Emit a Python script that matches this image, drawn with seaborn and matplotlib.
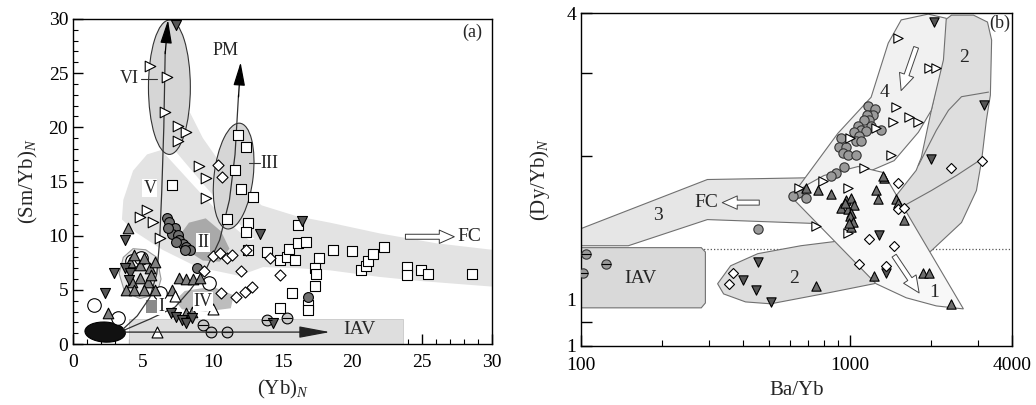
import numpy as np
import pandas as pd
import seaborn as sns
import matplotlib
matplotlib.use('Agg')
import matplotlib.pyplot as plt
from matplotlib.patches import Polygon, Ellipse, Rectangle

# ---------------- panel (a) data: (Yb)N vs (Sm/Yb)N ----------------
sq_x = [7.1, 11.8, 12.4, 11.6, 12.0, 12.9, 11.0, 12.5, 12.4, 12.5, 16.1, 13.9, 14.8, 15.3, 15.5,
        15.9, 16.1, 16.7, 17.6, 17.3, 17.4, 17.3, 15.7, 16.8, 16.8, 14.8, 18.6, 20.0, 20.6, 21.0,
        21.1, 21.5, 22.3, 23.9, 23.9, 24.9, 25.4, 28.6]
sq_y = [14.7, 19.3, 18.2, 16.1, 14.3, 13.6, 11.5, 11.2, 10.3, 8.7, 11.0, 8.5, 7.8, 8.0, 8.8,
        7.8, 9.3, 9.4, 7.9, 7.0, 6.5, 5.4, 4.7, 3.6, 3.1, 3.3, 8.7, 8.6, 6.8, 7.2,
        7.7, 8.3, 9.0, 7.1, 6.4, 6.8, 6.5, 6.5]
rt_x = [5.5, 6.7, 6.6, 7.5, 8.1, 7.5, 9.0, 9.5, 9.5, 5.3, 4.8, 5.7, 6.2]
rt_y = [25.7, 24.6, 21.4, 20.1, 19.6, 18.7, 16.4, 15.3, 13.5, 12.4, 11.7, 11.3, 9.8]
gc_x = [6.7, 6.9, 7.3, 7.1, 7.5, 7.6, 7.9, 8.1, 8.4, 7.4, 8.0, 6.8, 8.9, 16.8]
gc_y = [11.6, 11.3, 10.7, 10.2, 10.1, 9.6, 9.2, 9.0, 8.7, 9.4, 8.7, 10.7, 7.0, 4.3]
oc_x = [1.5, 3.2, 4.2, 4.9, 9.7, 6.2]
oc_y = [3.6, 2.4, 7.7, 7.9, 5.6, 4.7]
hc_x = [9.3, 9.9, 11.0, 13.9, 15.3]
hc_y = [1.8, 1.1, 1.1, 2.2, 2.4]
ut_x = [3.9, 2.5, 4.1, 4.4, 4.8, 5.1, 5.5, 5.9, 4.2, 4.8, 5.4, 5.6, 5.1, 5.9, 3.8, 4.4,
        7.6, 8.1, 8.6, 9.1, 7.1, 8.1, 8.5]
ut_y = [10.7, 2.9, 7.6, 8.2, 7.3, 7.9, 7.0, 7.6, 5.7, 6.1, 5.7, 6.4, 5.0, 5.0, 5.0, 5.0,
        6.1, 6.0, 6.0, 6.1, 5.0, 2.9, 3.0]
dt_x = [3.7, 2.9, 2.3, 3.7, 4.1, 4.0, 7.0, 7.4, 7.8, 8.1, 8.5, 16.4, 13.4, 14.3, 7.4]
dt_y = [9.6, 6.6, 4.7, 7.0, 6.6, 5.9, 2.9, 2.5, 2.2, 1.9, 2.4, 11.4, 10.2, 1.9, 29.4]
dm_x = [10.4, 10.7, 10.0, 10.5, 11.0, 11.4, 9.4, 12.0, 12.4, 10.6, 11.7, 12.3, 12.8, 14.1, 14.8]
dm_y = [16.5, 15.4, 8.1, 8.4, 7.9, 8.2, 6.7, 6.7, 8.7, 4.7, 4.3, 4.8, 5.3, 7.9, 6.4]
ot_x = [6.0, 7.3, 10.0]
ot_y = [1.1, 4.4, 3.2]

# fields in (a)
band_x = [3.5, 3.6, 4.3, 5.3, 6.3, 6.9, 7.0, 7.6, 8.4, 9.3, 10.5, 12.0, 13.5, 16.0, 18.4, 22.0, 26.0, 30.0,
          30.0, 25.0, 21.9, 18.4, 16.0, 13.6, 11.9, 8.9, 6.4, 4.5]
band_y = [11.5, 13.3, 16.0, 17.5, 17.9, 19.0, 21.5, 22.0, 21.3, 19.0, 16.8, 14.5, 12.8, 11.8, 11.2, 10.2, 9.3, 8.7,
          5.3, 5.8, 6.2, 6.8, 7.0, 7.1, 6.3, 7.1, 8.7, 10.3]
stripe_x = [6.6, 7.2, 9.3, 11.2, 13.0, 12.6, 10.8, 8.8]
stripe_y = [17.5, 18.0, 14.8, 12.0, 9.7, 9.6, 11.6, 14.4]
II_x = [7.5, 8.3, 9.5, 10.6, 11.2, 10.5, 9.3, 8.2]
II_y = [9.8, 11.2, 11.6, 10.4, 8.8, 7.6, 7.7, 8.6]
IV_x = [7.3, 8.0, 10.0, 11.5, 11.3, 9.5, 7.8]
IV_y = [4.0, 4.9, 5.3, 4.5, 3.3, 3.0, 3.2]
I_x = [3.3, 3.6, 4.3, 5.2, 6.0, 6.3, 6.0, 4.8, 3.7]
I_y = [6.5, 8.0, 8.8, 8.7, 8.0, 6.0, 4.6, 4.2, 4.8]
vi_x = [3.6, 4.6, 5.5, 6.0, 6.2, 6.35, 6.5, 6.6]
vi_y = [1.4, 2.6, 4.3, 6.5, 9.5, 14.0, 20.0, 27.0]
pm_x = [3.7, 5.5, 7.3, 8.4, 9.6, 10.5, 11.2, 11.6, 11.85]
pm_y = [1.3, 2.3, 3.4, 5.0, 7.1, 9.6, 13.3, 17.5, 23.0]

# ---------------- panel (b) data: Ba/Yb vs (Dy/Yb)N ----------------
bgc_x = [1167, 1239, 1218, 1157, 1177, 1128, 1198, 1071, 1099, 1035, 1148, 1306, 1081, 1052, 1099,
         926, 910, 966, 941, 984, 1052, 951, 888, 850, 640, 612, 685, 454]
bgc_y = [2.55, 2.52, 2.44, 2.44, 2.38, 2.38, 2.32, 2.32, 2.27, 2.25, 2.26, 2.27, 2.21, 2.16, 2.16,
         2.19, 2.09, 2.09, 2.03, 2.01, 2.01, 1.90, 1.85, 1.82, 1.68, 1.65, 1.64, 1.41]
bhc_x = [104, 102, 124]
bhc_y = [1.25, 1.14, 1.19]
but_x = [685, 760, 850, 966, 1009, 926, 984, 1035, 1009, 1009, 1250, 1267, 1340, 1230, 747,
         1871, 1972, 2383, 1589, 1327, 1486, 1510, 960, 1000, 1030, 990]
but_y = [1.72, 1.70, 1.67, 1.62, 1.64, 1.56, 1.55, 1.58, 1.52, 1.42, 1.70, 1.63, 1.80, 1.12, 1.07,
         1.14, 1.14, 0.98, 1.47, 1.82, 1.63, 1.60, 1.60, 1.50, 1.46, 1.45]
brt_x = [1510, 1972, 2094, 1486, 1445, 1660, 1795, 1423, 1250, 1128, 996, 793, 646, 984, 747, 984]
brt_y = [3.54, 3.06, 3.07, 2.54, 2.36, 2.42, 2.36, 2.01, 2.29, 1.89, 2.19, 1.78, 1.72, 1.72, 1.43, 1.38]
bdt_x = [2050, 3162, 2006, 1284, 454, 399, 446, 507, 1362]
bdt_y = [3.83, 2.56, 1.98, 1.37, 1.20, 1.10, 1.05, 0.99, 1.14]
bdm_x = [366, 354, 1177, 1081, 1510, 1510, 1582, 2383, 3085, 1459, 1362]
bdm_y = [1.14, 1.08, 1.34, 1.19, 1.76, 1.55, 1.56, 1.89, 1.96, 1.30, 1.18]

# fields in (b)
r3_x = [100, 295, 780, 780, 295, 150, 100]
r3_y = [1.411, 1.789, 1.806, 1.445, 1.474, 1.299, 1.299]
iav_x = [100, 280, 290, 290, 280, 100]
iav_y = [0.962, 0.962, 0.985, 1.26, 1.287, 1.287]
r2_x = [322, 339, 409, 507, 828, 1229, 1618, 2006, 2597, 2951, 3085, 3213, 3325, 3361, 3244, 2878,
        2383, 2260, 2200, 2006, 1841, 1762, 1486, 1198, 871, 657, 454, 360]
r2_y = [1.081, 1.029, 0.990, 0.981, 1.034, 1.081, 1.162, 1.268, 1.453, 1.696, 1.962, 2.383, 2.69, 3.51,
        3.83, 3.96, 3.96, 3.87, 3.19, 2.50, 1.99, 1.87, 1.656, 1.384, 1.325, 1.299, 1.250, 1.179]
r2a_x = [1795, 2094, 2323, 2597, 3273]
r2a_y = [1.915, 2.27, 2.50, 2.67, 2.73]
r2b_x = [1591, 2006, 2488, 3029]
r2b_y = [1.577, 1.696, 1.824, 1.962]
r4_x = [603, 657, 901, 1198, 1387, 1550, 1953, 2280, 2225, 2006, 1795, 1459, 1198, 926, 747]
r4_y = [1.648, 1.755, 2.236, 2.663, 3.459, 3.87, 3.98, 3.90, 3.19, 2.50, 2.248, 1.96, 1.868, 1.824, 1.738]
r1_x = [603, 685, 800, 1071, 1327, 2640, 2094, 1618, 1250]
r1_y = [1.648, 1.738, 1.824, 1.905, 1.851, 0.957, 0.971, 1.010, 1.081]

# ---------------- style ----------------
sns.set_style('ticks')
plt.rcParams['font.family'] = ['Liberation Serif', 'DejaVu Serif']
plt.rcParams['mathtext.fontset'] = 'custom'
plt.rcParams['mathtext.rm'] = 'Liberation Serif'
plt.rcParams['mathtext.it'] = 'Liberation Serif:italic'
plt.rcParams['axes.linewidth'] = 1.0
plt.rcParams['axes.edgecolor'] = 'black'


def scat(ax, xs, ys, marker, s, fc, ec='black', lw=0.8, z=5):
    df = pd.DataFrame({'x': xs, 'y': ys})
    sns.scatterplot(data=df, x='x', y='y', ax=ax, marker=marker, s=s, color=fc,
                    edgecolor=ec, linewidth=lw, zorder=z, legend=False)


def region(ax, xs, ys, fc, ec='none', lw=0.8, z=1):
    ax.add_patch(Polygon(np.column_stack([xs, ys]), closed=True, fc=fc, ec=ec, lw=lw, zorder=z))


fig = plt.figure(figsize=(10.36, 4.05), dpi=100)
ax1 = fig.add_axes([0.0705, 0.1506, 0.4044, 0.8025])
ax2 = fig.add_axes([0.5608, 0.1457, 0.416, 0.822])

# ================= panel (a) =================
region(ax1, band_x, band_y, '#e3e3e3')
region(ax1, stripe_x, stripe_y, 'white', z=1.1)
ax1.add_patch(Rectangle((4.0, 0), 19.6, 2.35, fc='#dedede', ec='#c8c8c8', lw=0.6, zorder=1))
region(ax1, I_x, I_y, '#e8e8e8', ec='#999999', z=1.5)
region(ax1, II_x, II_y, '#a9a9a9', z=1.5)
region(ax1, IV_x, IV_y, '#bdbdbd', z=1.5)
ax1.add_patch(Ellipse((6.9, 23.7), 3.0, 12.4, fc='#d6d6d6', ec='#333333', lw=0.8, zorder=1.6))
ax1.add_patch(Ellipse((11.5, 15.5), 2.8, 9.8, angle=-5, fc='#d6d6d6', ec='#333333', lw=0.8, zorder=1.6))
ax1.add_patch(Ellipse((2.3, 1.1), 2.9, 1.85, angle=-5, fc='#111111', ec='black', lw=0.8, zorder=3))
ax1.add_patch(Rectangle((5.2, 2.9), 1.0, 1.2, fc='#8a8a8a', ec='none', zorder=2))

ax1.plot(vi_x, vi_y, color='#333333', lw=0.9, zorder=3)
ax1.plot(pm_x, pm_y, color='#333333', lw=0.9, zorder=3)
ax1.annotate('', xy=(6.8, 29.9), xytext=(6.6, 26.8), annotation_clip=False,
             arrowprops=dict(arrowstyle='-|>,head_length=1.2,head_width=0.3', color='black',
                             lw=0.9, mutation_scale=12, shrinkA=0, shrinkB=0), zorder=6)
ax1.annotate('', xy=(12.0, 26.0), xytext=(11.85, 22.8),
             arrowprops=dict(arrowstyle='-|>,head_length=1.2,head_width=0.3', color='black',
                             lw=0.9, mutation_scale=12, shrinkA=0, shrinkB=0), zorder=6)
ax1.annotate('', xy=(18.4, 1.1), xytext=(3.7, 1.1),
             arrowprops=dict(arrowstyle='-|>,head_length=1.6,head_width=0.3', color='#222222',
                             lw=0.9, mutation_scale=12, shrinkA=0, shrinkB=0), zorder=6)
ax1.annotate('', xy=(27.3, 9.9), xytext=(23.8, 9.9),
             arrowprops=dict(arrowstyle='simple,head_length=0.9,head_width=0.8,tail_width=0.3',
                             fc='white', ec='#333333', lw=0.7, mutation_scale=12,
                             shrinkA=0, shrinkB=0), zorder=6)

scat(ax1, sq_x, sq_y, 's', 55, 'white')
scat(ax1, rt_x, rt_y, '>', 58, 'white')
scat(ax1, gc_x, gc_y, 'o', 50, '#707070')
scat(ax1, oc_x, oc_y, 'o', 95, 'white')
scat(ax1, hc_x, hc_y, 'o', 60, '#c8c8c8')
scat(ax1, hc_x, hc_y, '_', 60, 'black', ec='black', lw=0.8, z=5.5)
scat(ax1, ut_x, ut_y, '^', 58, '#808080')
scat(ax1, dt_x, dt_y, 'v', 52, '#555555')
scat(ax1, dm_x, dm_y, 'D', 32, 'white')
scat(ax1, ot_x, ot_y, '^', 62, 'white')

fs = 14
box = dict(fc='white', ec='none', pad=0.6)
ax1.text(4.05, 24.5, 'VI', fontsize=fs - 1, ha='center', va='center', zorder=7)
ax1.plot([4.9, 6.0], [24.5, 24.5], color='#333333', lw=0.8, zorder=6)
ax1.text(14.05, 16.7, 'III', fontsize=fs - 1, ha='center', va='center', zorder=7)
ax1.plot([12.6, 13.4], [16.7, 16.7], color='#333333', lw=0.8, zorder=6)
ax1.text(10.9, 27.1, 'PM', fontsize=fs - 1, ha='center', va='center', zorder=7)
ax1.text(5.5, 14.4, 'V', fontsize=fs - 1, ha='center', va='center', bbox=box, zorder=7)
ax1.text(9.3, 9.4, 'II', fontsize=fs - 1, ha='center', va='center', bbox=box, zorder=7)
ax1.text(9.3, 3.9, 'IV', fontsize=fs - 1, ha='center', va='center', bbox=box, zorder=7)
ax1.text(6.3, 3.5, 'I', fontsize=fs - 1, ha='center', va='center', bbox=box, zorder=7)
ax1.text(20.5, 1.3, 'IAV', fontsize=fs, ha='center', va='center', zorder=7)
ax1.text(27.5, 9.9, 'FC', fontsize=fs, ha='left', va='center', zorder=7)
ax1.text(28.6, 28.8, '(a)', fontsize=fs - 1, ha='center', va='center', zorder=7)

ax1.set_xlim(0, 30)
ax1.set_ylim(0, 30)
ax1.set_xticks([0, 5, 10, 15, 20, 25, 30])
ax1.set_yticks([0, 5, 10, 15, 20, 25, 30])
ax1.xaxis.set_minor_locator(matplotlib.ticker.MultipleLocator(1))
ax1.yaxis.set_minor_locator(matplotlib.ticker.MultipleLocator(1))
ax1.tick_params(which='both', direction='in', top=False, right=False, labelsize=fs, colors='black')
ax1.tick_params(which='major', length=7, width=1.0)
ax1.tick_params(which='minor', length=3.5, width=0.8)
ax1.tick_params(axis='x', which='major', pad=7)
ax1.set_xlabel('(Yb)$_N$', fontsize=fs + 1, labelpad=5)
ax1.set_ylabel('(Sm/Yb)$_N$', fontsize=fs + 1, labelpad=6)

# ================= panel (b) =================
ax2.set_xscale('log')
ax2.set_yscale('log')
ax2.axhline(1.28, ls=':', color='#555555', lw=0.9, zorder=0.5)
region(ax2, r3_x, r3_y, '#e6e6e6', ec='#707070')
region(ax2, iav_x, iav_y, '#d9d9d9', ec='#707070')
region(ax2, r2_x, r2_y, '#dedede', ec='#707070', z=1.2)
ax2.plot(r2a_x, r2a_y, color='#707070', lw=0.8, zorder=1.3)
ax2.plot(r2b_x, r2b_y, color='#707070', lw=0.8, zorder=1.3)
region(ax2, r4_x, r4_y, '#f1f1f1', ec='#707070', z=1.4)
region(ax2, r1_x, r1_y, '#f8f8f8', ec='#707070', z=1.5)

ax2.annotate('', xy=(1549, 2.75), xytext=(1762, 3.39),
             arrowprops=dict(arrowstyle='simple,head_length=1.0,head_width=0.9,tail_width=0.3',
                             fc='white', ec='#444444', lw=0.7, mutation_scale=12,
                             shrinkA=0, shrinkB=0), zorder=6)
ax2.annotate('', xy=(1807, 1.034), xytext=(1459, 1.238),
             arrowprops=dict(arrowstyle='simple,head_length=1.0,head_width=0.9,tail_width=0.3',
                             fc='white', ec='#444444', lw=0.7, mutation_scale=12,
                             shrinkA=0, shrinkB=0), zorder=6)
ax2.annotate('', xy=(335, 1.6), xytext=(460, 1.6),
             arrowprops=dict(arrowstyle='simple,head_length=0.9,head_width=0.8,tail_width=0.3',
                             fc='white', ec='#444444', lw=0.7, mutation_scale=12,
                             shrinkA=0, shrinkB=0), zorder=6)

scat(ax2, bgc_x, bgc_y, 'o', 45, '#9a9a9a', ec='#333333')
scat(ax2, bhc_x, bhc_y, 'o', 45, '#9a9a9a', ec='#333333')
scat(ax2, bhc_x, bhc_y, '_', 45, 'black', ec='black', lw=0.8, z=5.5)
scat(ax2, brt_x, brt_y, '>', 45, 'white')
scat(ax2, but_x, but_y, '^', 45, '#6e6e6e')
scat(ax2, bdt_x, bdt_y, 'v', 45, '#555555')
scat(ax2, bdm_x, bdm_y, 'D', 26, 'white')

ax2.text(194, 1.50, '3', fontsize=fs, ha='center', va='center', zorder=7)
ax2.text(325, 1.6, 'FC', fontsize=fs, ha='right', va='center', zorder=7)
ax2.text(166, 1.11, 'IAV', fontsize=fs, ha='center', va='center', zorder=7)
ax2.text(618, 1.107, '2', fontsize=fs, ha='center', va='center', zorder=7)
ax2.text(2660, 3.22, '2', fontsize=fs, ha='center', va='center', zorder=7)
ax2.text(1340, 2.73, '4', fontsize=fs, ha='center', va='center', zorder=7)
ax2.text(2055, 1.034, '1', fontsize=fs, ha='center', va='center', zorder=7)
ax2.text(3600, 3.81, '(b)', fontsize=fs - 1, ha='center', va='center', zorder=7)

ax2.set_xlim(100, 4000)
ax2.set_ylim(0.8, 4)
ax2.set_xticks([100, 1000, 4000])
ax2.set_xticklabels(['100', '1000', '4000'])
ax2.xaxis.set_minor_locator(matplotlib.ticker.FixedLocator(
    [200, 300, 400, 500, 600, 700, 800, 900, 2000, 3000]))
ax2.xaxis.set_minor_formatter(matplotlib.ticker.NullFormatter())
ax2.set_yticks([0.8, 0.9, 1, 2, 3, 4])
ax2.set_yticklabels(['1', '', '1', '', '', '4'])
ax2.yaxis.set_minor_locator(matplotlib.ticker.NullLocator())
ax2.tick_params(which='both', direction='in', top=False, right=False, labelsize=fs, colors='black')
ax2.tick_params(which='major', length=8, width=1.0)
ax2.tick_params(which='minor', length=4.5, width=0.8)
ax2.tick_params(axis='x', which='major', pad=8)
ax2.set_xlabel('Ba/Yb', fontsize=fs + 1, labelpad=5)
ax2.set_ylabel('(Dy/Yb)$_N$', fontsize=fs + 1, labelpad=10)

fig.savefig('out.png', dpi=100)
